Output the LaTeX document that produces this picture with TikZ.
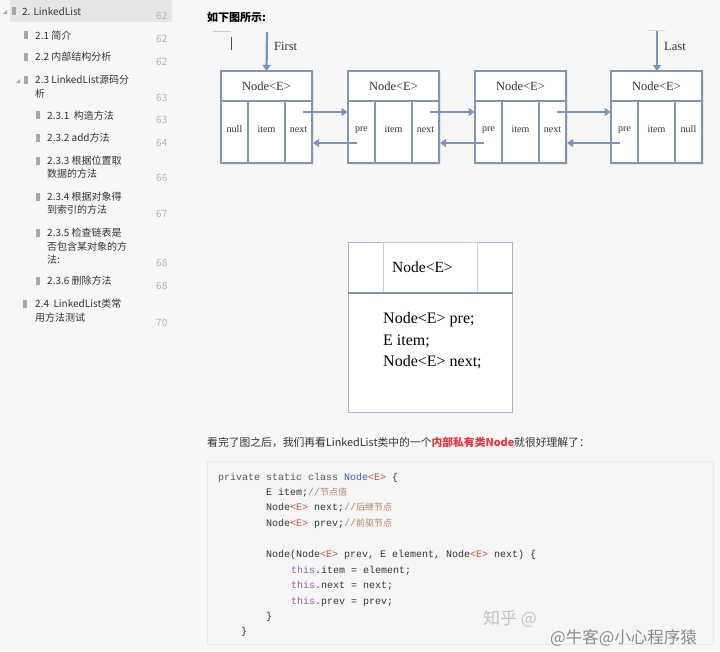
\documentclass[tikz,border=0pt]{standalone}
\usepackage{fontspec}
\setmainfont{Liberation Serif}
\newfontfamily\cjk{Noto Sans CJK SC}
\newfontfamily\mono{Liberation Mono}
\usetikzlibrary{arrows.meta,calc}
\definecolor{bgc}{HTML}{F7F7F8}
\definecolor{sidehl}{HTML}{E6E6E8}
\definecolor{sidetxt}{HTML}{333333}
\definecolor{pagec}{HTML}{B4B4B4}
\definecolor{iconc}{HTML}{A8A8A8}
\definecolor{boxc}{HTML}{8096B2}
\definecolor{arrc}{HTML}{7896BB}
\definecolor{txt}{HTML}{333333}
\definecolor{redt}{HTML}{E8363A}
\definecolor{codebg}{HTML}{F5F5F6}
\definecolor{codeln}{HTML}{E8E8EA}
\definecolor{kw}{HTML}{5A5470}
\definecolor{ty}{HTML}{3F5BA8}
\definecolor{gen}{HTML}{D0503A}
\definecolor{thisc}{HTML}{9A5CAE}
\definecolor{cmt}{HTML}{B8845E}
\definecolor{wm}{HTML}{C4C4C4}
\tikzset{
  side/.style={anchor=base west, inner sep=0, font=\cjk\fontsize{10}{12}\selectfont, text=sidetxt},
  pagenum/.style={anchor=base west, inner sep=0, font=\cjk\fontsize{10}{12}\selectfont, text=pagec},
  bmark/.style={fill=iconc, draw=none, minimum width=4pt, minimum height=8pt, inner sep=0},
  cellbox/.style={draw=boxc, line width=1.6pt, fill=white, anchor=north west, inner sep=0, outer sep=0,
     minimum height=62pt, font=\fontsize{10}{12}\selectfont, text=txt},
  headbox/.style={draw=boxc, line width=1.6pt, fill=white, anchor=north west, inner sep=0, outer sep=0,
     minimum height=30pt, minimum width=91pt, font=\fontsize{12.5}{14}\selectfont, text=txt},
  arr/.style={draw=arrc, line width=2.6pt, -{Triangle[length=6pt,width=8pt]}},
  codeline/.style={anchor=base west, inner sep=0, font=\mono\fontsize{10}{12}\selectfont, text=txt},
  bodyline/.style={anchor=base west, inner sep=0, font=\fontsize{16}{18}\selectfont, text=black},
}
\newcommand{\cmtx}[1]{\textcolor{cmt}{{\mono //}{\cjk\fontsize{9}{11}\selectfont #1}}}
\newcommand{\up}[1]{\raisebox{5pt}{#1}}
\begin{document}
\begin{tikzpicture}[x=1pt,y=-1pt]
\useasboundingbox (0,0) rectangle (720,651);
\fill[bgc] (0,0) rectangle (720,651);
% ---------------- sidebar
\fill[sidehl] (10,0) rectangle (172,22);
\fill[iconc] (3,14) -- (7,10) -- (7,14) -- cycle;
\fill[iconc] (16,83) -- (20,79) -- (20,83) -- cycle;
\node[bmark] (b0) at (14,11) {};
\node[side] (s0) at (22,15) {2. LinkedList};
\node[pagenum] (p0) at (156,19) {62};
\node[bmark] (b1) at (26,35) {};
\node[side] (s1) at (35,39) {2.1 简介};
\node[pagenum] (p1) at (156,42) {62};
\node[bmark] (b2) at (26,57) {};
\node[side] (s2) at (35,60) {2.2 内部结构分析};
\node[pagenum] (p2) at (156,65) {62};
\node[bmark] (b3) at (26,80) {};
\node[side] (s3) at (35,83) {2.3 LinkedList源码分};
\node[side] (s3b) at (35,97) {析};
\node[pagenum] (p3) at (156,101) {63};
\node[bmark] (b4) at (38,115) {};
\node[side] (s4) at (47,119) {2.3.1\ \ 构造方法};
\node[pagenum] (p4) at (156,123) {63};
\node[bmark] (b5) at (38,138) {};
\node[side] (s5) at (47,141) {2.3.2 add方法};
\node[pagenum] (p5) at (156,146) {64};
\node[bmark] (b6) at (38,161) {};
\node[side] (s6) at (47,164) {2.3.3 根据位置取};
\node[side] (s6b) at (47,177) {数据的方法};
\node[pagenum] (p6) at (156,181) {66};
\node[bmark] (b7) at (38,197) {};
\node[side] (s7) at (47,200) {2.3.4 根据对象得};
\node[side] (s7b) at (47,213) {到索引的方法};
\node[pagenum] (p7) at (156,217) {67};
\node[bmark] (b8) at (38,233) {};
\node[side] (s8) at (47,236) {2.3.5 检查链表是};
\node[side] (s8b) at (47,250) {否包含某对象的方};
\node[side] (s8c) at (47,263) {法:};
\node[pagenum] (p8) at (156,266) {68};
\node[bmark] (b9) at (38,281) {};
\node[side] (s9) at (47,284) {2.3.6 删除方法};
\node[pagenum] (p9) at (156,289) {68};
\node[bmark] (b10) at (25,304) {};
\node[side] (s10) at (35,307) {2.4\ \ LinkedList类常};
\node[side] (s10b) at (35,321) {用方法测试};
\node[pagenum] (p10) at (156,326) {70};
% ---------------- heading
\node[anchor=base west, inner sep=0, font=\cjk\bfseries\fontsize{11}{13}\selectfont, text=black] (title) at (207,21) {如下图所示:};
\draw[black!20, line width=0.8pt] (213,31) -- (231,31);
\draw[black!70, line width=1pt] (231,37) -- (231,50);
% ---------------- linked list diagram
\foreach \i/\x/\l/\r in {1/221/null/next, 2/348/pre/next, 3/475/pre/next, 4/611/pre/null}{
  \fill[black!10] (\x+2,73) rectangle (\x+93,165);
  \node[headbox] (n\i h) at (\x,71) {Node<E>};
  \node[cellbox, minimum width=27pt] (n\i a) at (\x,101) {\up{\l}};
  \node[cellbox, minimum width=37pt] (n\i b) at (\x+27,101) {\up{item}};
  \node[cellbox, minimum width=27pt] (n\i c) at (\x+64,101) {\up{\r}};
}
\foreach \i/\j in {1/2, 2/3, 3/4}{
  \draw[arr] ($(n\i c.north east)+(-9,11)$) -- ($(n\j a.north west)+(-0.5,11)$);
  \draw[arr] ($(n\j a.north west)+(9,42)$) -- ($(n\i c.north east)+(1,42)$);
}
\coordinate (firstTop) at (267,32);
\coordinate (lastTop) at (657,30);
\draw[arr, line width=2.2pt] (firstTop) -- (n1h.north);
\draw[arr, line width=2.2pt] (lastTop) -- ($(n4h.north)+(0.5,0)$);
\draw[black!15, line width=1pt] (648,30) -- (665,30);
\node[anchor=base west, inner sep=0, font=\fontsize{12.5}{14}\selectfont, text=txt] (firstlbl) at (274,50) {First};
\node[anchor=base west, inner sep=0, font=\fontsize{12.5}{14}\selectfont, text=txt] (lastlbl) at (664,50) {Last};
% ---------------- node class box
\node[draw=boxc!70, line width=1.2pt, fill=white, anchor=north west, minimum width=164pt, minimum height=170pt, inner sep=0] (cls) at (348,242) {};
\node[draw=boxc!45, line width=0.8pt, fill=white, anchor=north west, minimum width=94pt, minimum height=51pt, inner sep=0] (clsh) at (383,242) {};
\draw[boxc, line width=1.6pt] (cls.west |- 0,293) -- (cls.east |- 0,293);
\node[anchor=base west, inner sep=0, font=\fontsize{15.5}{18}\selectfont, text=black] (clst) at (392,272) {Node<E>};
\node[bodyline] (l1) at (383,323) {Node<E> pre;};
\node[bodyline] (l2) at (383,345) {E item;};
\node[bodyline] (l3) at (383,366) {Node<E> next;};
% ---------------- explanation text
\node[anchor=base west, inner sep=0, font=\cjk\fontsize{10.8}{13}\selectfont, text=txt] (expl) at (207,446)
  {看完了图之后，我们再看LinkedList类中的一个\textcolor{redt}{\bfseries 内部私有类Node}就很好理解了：};
% ---------------- code block
\filldraw[fill=codebg, draw=codeln, line width=0.8pt] (207,461) rectangle (713,644);
\node[codeline] (c1) at (218,480) {\textcolor{kw}{private static class} \textcolor{ty}{Node}\textcolor{gen}{<E>} \{};
\node[codeline] (c2) at (266,495) {E item;\cmtx{节点值}};
\node[codeline] (c3) at (266,510) {Node\textcolor{gen}{<E>} next;\cmtx{后继节点}};
\node[codeline] (c4) at (266,526) {Node\textcolor{gen}{<E>} prev;\cmtx{前驱节点}};
\node[codeline] (c5) at (266,557) {Node(Node\textcolor{gen}{<E>} prev, E element, Node\textcolor{gen}{<E>} next) \{};
\node[codeline] (c6) at (291,573) {\textcolor{thisc}{this}.item = element;};
\node[codeline] (c7) at (291,588) {\textcolor{thisc}{this}.next = next;};
\node[codeline] (c8) at (291,604) {\textcolor{thisc}{this}.prev = prev;};
\node[codeline] (c9) at (266,619) {\}};
\node[codeline] (c10) at (241,634) {\}};
% ---------------- watermark
\node[anchor=base west, inner sep=0, font=\cjk\fontsize{17}{19}\selectfont, text=wm] (wm1) at (483,624) {知乎 @};
\node[anchor=base west, inner sep=0, font=\cjk\fontsize{16.5}{19}\selectfont, text=black!45] (wm2) at (550,643) {@牛客@小心程序猿};
\end{tikzpicture}
\end{document}
